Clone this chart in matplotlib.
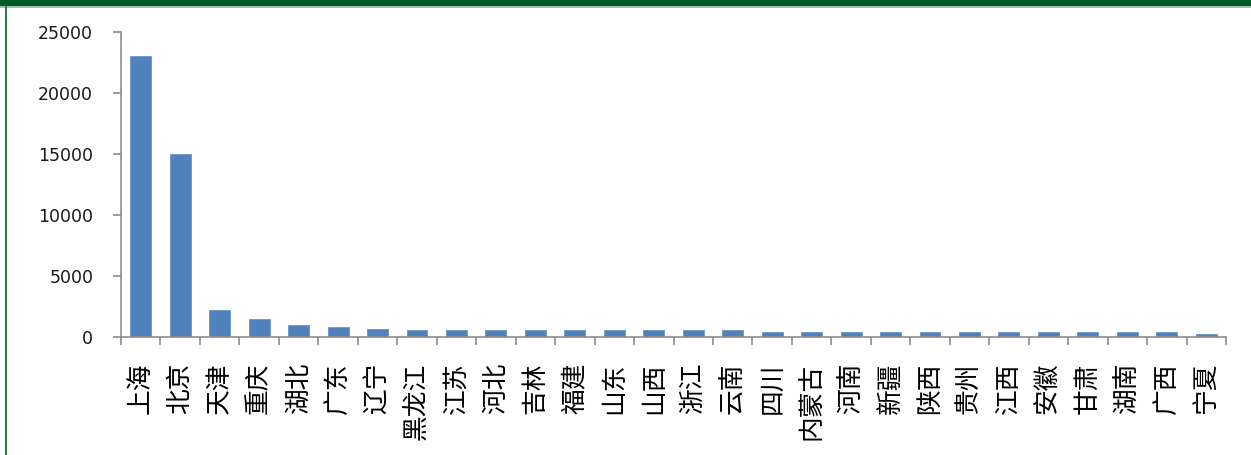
import matplotlib
matplotlib.use("Agg")
from matplotlib import pyplot as plt
from matplotlib.patches import Rectangle

plt.rcParams['font.family'] = ['DejaVu Sans', 'Noto Sans CJK SC']

# provinces and values
provinces = ["上海", "北京", "天津", "重庆", "湖北", "广东", "辽宁", "黑龙江",
             "江苏", "河北", "吉林", "福建", "山东", "山西", "浙江", "云南",
             "四川", "内蒙古", "河南", "新疆", "陕西", "贵州", "江西", "安徽",
             "甘肃", "湖南", "广西", "宁夏"]
values = [23000, 15000, 2250, 1450, 960, 800, 660, 550,
          550, 550, 540, 540, 540, 540, 540, 540,
          410, 410, 410, 410, 410, 410, 410, 410,
          410, 410, 410, 280]
yticks = [0, 5000, 10000, 15000, 20000, 25000]

fig = plt.figure(figsize=(12.51, 4.55), dpi=100)
ax = fig.add_axes([121 / 1251, 1 - 337 / 455, (1226 - 121) / 1251, (337 - 32) / 455])

x = range(len(provinces))
ax.bar(x, values, width=0.53, color="#4f81bd", edgecolor="#6b95c8", linewidth=0.6)

ax.set_xlim(-0.5, len(provinces) - 0.5)
ax.set_ylim(0, 25000)
ax.set_yticks(yticks)
ax.set_yticklabels([str(v) for v in yticks], fontsize=12.5, color="#1a1a1a")

ax.set_xticks([i - 0.5 for i in range(len(provinces) + 1)])
ax.set_xticklabels([])
ax.set_xticks(list(x), minor=True)
ax.set_xticklabels(provinces, minor=True, rotation=90, fontsize=18.5,
                   family=['Noto Sans CJK SC'], va="top", ha="center")
ax.tick_params(axis="x", which="minor", length=0, pad=18.5)
ax.tick_params(axis="x", which="major", length=6, width=1.2, color="#8c8c8c")
ax.tick_params(axis="y", length=6, width=1.2, color="#8c8c8c", pad=14)

for s in ["top", "right"]:
    ax.spines[s].set_visible(False)
for s in ["left", "bottom"]:
    ax.spines[s].set_color("#8c8c8c")
    ax.spines[s].set_linewidth(1.2)

# green frame around the slide
fig.patches.append(Rectangle((0, 1 - 6 / 455), 1, 6 / 455, transform=fig.transFigure,
                             facecolor="#005a28", edgecolor="none"))
fig.patches.append(Rectangle((0, 1 - 7.5 / 455), 1, 1.5 / 455, transform=fig.transFigure,
                             facecolor="#9cc4a8", edgecolor="none"))
fig.patches.append(Rectangle((4.5 / 1251, 0), 2 / 1251, 1 - 6 / 455, transform=fig.transFigure,
                             facecolor="#2e7d4a", edgecolor="none"))

fig.savefig("out.png", dpi=100)
